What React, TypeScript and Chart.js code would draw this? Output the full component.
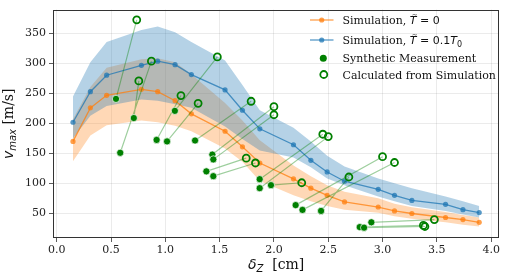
import React, { useEffect, useRef } from 'react';
import { Chart, registerables } from 'chart.js';

Chart.register(...registerables);

// ---- data ----
const simX = [0.15, 0.31, 0.46, 0.78, 0.93, 1.09, 1.24, 1.55, 1.71, 1.87, 2.18, 2.34, 2.49, 2.65, 2.96, 3.11, 3.27, 3.58, 3.74, 3.89];
const vT0 = [170, 226, 247, 257, 253, 238, 216, 187, 161, 134, 107.5, 92, 80, 69, 60.5, 54, 49.7, 43, 39.5, 35];
const vT0Lo = [137, 180, 197, 205, 202, 196, 187, 158, 136, 104, 80, 70, 62, 56, 51, 45, 41, 35, 31, 28];
const vT0Hi = [207, 261, 293, 307, 309, 302, 282, 234, 205, 172, 130, 112, 97, 86, 75, 66, 60, 52, 47, 43];
const vT01 = [202, 253, 280.5, 297, 304, 298, 281.5, 256, 222, 191, 164.4, 138.5, 119, 103.6, 90, 80, 71.5, 65, 56, 51.3];
const vT01Lo = [175, 213, 229, 240, 238, 232, 226, 195, 174, 155, 143, 127, 108, 97, 78, 70, 62, 54, 48, 43];
const vT01Hi = [245, 302, 336, 356, 362, 352, 336, 305, 264, 222, 193, 170, 146, 128, 108, 100, 92, 78, 70, 62];

// synthetic measurements (filled) paired by index with values calculated from simulation (open)
const measX = [0.546, 0.585, 0.71, 0.92, 1.016, 1.088, 1.274, 1.433, 1.442, 1.378, 1.442, 1.869, 1.869, 1.973, 2.2, 2.263, 2.434, 2.79, 2.83, 2.897];
const measV = [241, 151, 209, 172.5, 170, 221, 171.5, 148, 140, 120, 112, 107, 92, 97, 63.7, 55.7, 54, 27, 26, 35];
const calcX = [0.737, 0.872, 0.756, 1.144, 1.302, 1.479, 1.79, 2.0, 2.0, 1.745, 1.83, 2.45, 2.5, 2.256, 3.0, 3.11, 2.69, 3.376, 3.39, 3.477];
const calcV = [373, 304, 271, 246.5, 233.5, 311, 237, 228, 214.5, 142, 134, 182, 178, 101, 144.5, 134.8, 110.6, 29.8, 28, 39.5];

const xTicks = [0, 0.5, 1.0, 1.5, 2.0, 2.5, 3.0, 3.5, 4.0];
const yTicks = [50, 100, 150, 200, 250, 300, 350];

const ORANGE = '#ff7f0e';
const BLUE = '#1f77b4';
const GREEN = '#008000';
const SERIF = "'DejaVu Serif', serif";
const SANS = "'DejaVu Sans', sans-serif";

type Run = { t: string; f: string; dy?: number; tilde?: boolean };

function runsWidth(ctx: CanvasRenderingContext2D, runs: Run[]) {
  let w = 0;
  for (const r of runs) {
    ctx.font = r.f;
    w += ctx.measureText(r.t).width;
  }
  return w;
}

function drawRuns(ctx: CanvasRenderingContext2D, runs: Run[], x: number, y: number) {
  let cx = x;
  ctx.textAlign = 'left';
  ctx.textBaseline = 'alphabetic';
  for (const r of runs) {
    ctx.font = r.f;
    ctx.fillText(r.t, cx, y + (r.dy ?? 0));
    const w = ctx.measureText(r.t).width;
    if (r.tilde) {
      ctx.save();
      ctx.font = `7px ${SANS}`;
      ctx.textAlign = 'center';
      ctx.fillText('~', cx + w / 2 + 1.5, y - 7.5);
      ctx.restore();
    }
    cx += w;
  }
}

const xy = (xs: number[], ys: number[]) => xs.map((x, i) => ({ x, y: ys[i] }));

const framePlugin = {
  id: 'frame',
  afterDatasetsDraw(chart: any) {
    const { ctx, chartArea: a } = chart;
    ctx.save();
    ctx.strokeStyle = '#333';
    ctx.lineWidth = 1;
    ctx.strokeRect(Math.round(a.left) + 0.5, Math.round(a.top) + 0.5, Math.round(a.right - a.left) - 1, Math.round(a.bottom - a.top) - 1);
    ctx.restore();
  },
};

const textPlugin = {
  id: 'texts',
  afterDraw(chart: any) {
    const ctx: CanvasRenderingContext2D = chart.ctx;
    const a = chart.chartArea;
    ctx.save();
    ctx.fillStyle = '#111';

    // x title
    const xRuns: Run[] = [
      { t: 'δ', f: `italic 14px ${SANS}` },
      { t: 'Z', f: `italic 10px ${SANS}`, dy: 3 },
      { t: '  [cm]', f: `14px ${SERIF}` },
    ];
    const xw = runsWidth(ctx, xRuns);
    drawRuns(ctx, xRuns, (a.left + a.right) / 2 - xw / 2, 269);

    // y title
    const yRuns: Run[] = [
      { t: 'v', f: `italic 14px ${SANS}` },
      { t: 'max', f: `italic 10px ${SANS}`, dy: 3 },
      { t: ' [m/s]', f: `14px ${SERIF}` },
    ];
    const yw = runsWidth(ctx, yRuns);
    ctx.save();
    ctx.translate(13, (a.top + a.bottom) / 2);
    ctx.rotate(-Math.PI / 2);
    drawRuns(ctx, yRuns, -yw / 2, 0);
    ctx.restore();

    // legend
    const tx = 342.5;
    const rows: { y: number; runs: Run[] }[] = [
      { y: 20, runs: [{ t: 'Simulation, ', f: `11px ${SERIF}` }, { t: 'T', f: `italic 11px ${SANS}`, tilde: true }, { t: ' = 0', f: `11px ${SANS}` }] },
      { y: 40, runs: [{ t: 'Simulation, ', f: `11px ${SERIF}` }, { t: 'T', f: `italic 11px ${SANS}`, tilde: true }, { t: ' = 0.1', f: `11px ${SANS}` }, { t: 'T', f: `italic 11px ${SANS}` }, { t: '0', f: `8px ${SANS}`, dy: 2.5 }] },
      { y: 58.3, runs: [{ t: 'Synthetic Measurement', f: `11px ${SERIF}` }] },
      { y: 74.5, runs: [{ t: 'Calculated from Simulation', f: `11px ${SERIF}` }] },
    ];
    rows.forEach((r) => drawRuns(ctx, r.runs, tx, r.y + 4));

    // legend handles
    const handleLine = (y: number, color: string) => {
      ctx.save();
      ctx.globalAlpha = 0.75;
      ctx.strokeStyle = color;
      ctx.fillStyle = color;
      ctx.lineWidth = 1.3;
      ctx.beginPath();
      ctx.moveTo(310, y);
      ctx.lineTo(333.5, y);
      ctx.stroke();
      ctx.beginPath();
      ctx.arc(321.7, y, 2.6, 0, Math.PI * 2);
      ctx.fill();
      ctx.restore();
    };
    handleLine(20, ORANGE);
    handleLine(40, BLUE);
    ctx.fillStyle = GREEN;
    ctx.beginPath();
    ctx.arc(323.3, 58.3, 3.5, 0, Math.PI * 2);
    ctx.fill();
    ctx.strokeStyle = GREEN;
    ctx.lineWidth = 1.8;
    ctx.beginPath();
    ctx.arc(323.8, 74.5, 3.5, 0, Math.PI * 2);
    ctx.stroke();
    ctx.restore();
  },
};

export default function App() {
  const ref = useRef<HTMLCanvasElement | null>(null);
  useEffect(() => {
    if (!ref.current) return;
    const links: any[] = [];
    measX.forEach((mx, i) => {
      links.push({ x: mx, y: measV[i] });
      links.push({ x: calcX[i], y: calcV[i] });
      links.push({ x: calcX[i], y: null });
    });
    const band = { pointRadius: 0, borderWidth: 0, borderColor: 'transparent', tension: 0 };
    const tickFont = { family: SERIF, size: 11 };
    const chart = new Chart(ref.current, {
      type: 'line',
      data: {
        datasets: [
          { data: xy(simX, vT0Lo), ...band, fill: false, order: 9 } as any,
          { data: xy(simX, vT0Hi), ...band, fill: '-1', backgroundColor: 'rgba(255,127,14,0.3)', order: 8 } as any,
          { data: xy(simX, vT01Lo), ...band, fill: false, order: 7 } as any,
          { data: xy(simX, vT01Hi), ...band, fill: '-1', backgroundColor: 'rgba(31,119,180,0.33)', order: 6 } as any,
          { data: xy(simX, vT0), borderColor: 'rgba(255,127,14,0.75)', backgroundColor: 'rgba(255,127,14,0.75)', borderWidth: 1.3, pointRadius: 2.6, pointBorderWidth: 0, fill: false, tension: 0, order: 5 } as any,
          { data: xy(simX, vT01), borderColor: 'rgba(31,119,180,0.75)', backgroundColor: 'rgba(31,119,180,0.75)', borderWidth: 1.3, pointRadius: 2.6, pointBorderWidth: 0, fill: false, tension: 0, order: 4 } as any,
          { data: links, borderColor: 'rgba(0,128,0,0.38)', borderWidth: 1.2, pointRadius: 0, fill: false, spanGaps: false, tension: 0, order: 3 } as any,
          { data: xy(measX, measV), showLine: false, pointRadius: 3.6, pointBackgroundColor: GREEN, pointBorderColor: '#ffffff', pointBorderWidth: 0.7, order: 2 } as any,
          { data: xy(calcX, calcV), showLine: false, pointRadius: 3.5, pointBackgroundColor: 'rgba(0,0,0,0)', pointBorderColor: GREEN, pointBorderWidth: 1.8, order: 1 } as any,
        ],
      },
      options: {
        animation: false,
        responsive: false,
        devicePixelRatio: 1,
        events: [],
        layout: { padding: { left: 0, right: 3, top: 2, bottom: 0 } },
        plugins: { legend: { display: false }, tooltip: { enabled: false } },
        scales: {
          x: {
            type: 'linear',
            min: -0.034,
            max: 4.074,
            afterFit: (s: any) => { s.height = 38; },
            afterBuildTicks: (s: any) => { s.ticks = xTicks.map((v) => ({ value: v })); },
            ticks: { callback: (v: any) => Number(v).toFixed(1), font: tickFont, color: '#222', padding: 2, maxRotation: 0, autoSkip: false },
            grid: { color: 'rgba(0,0,0,0.1)', lineWidth: 0.8, tickColor: '#333', tickLength: 4 },
            border: { display: false },
          },
          y: {
            type: 'linear',
            min: 8.8,
            max: 390,
            afterFit: (s: any) => { s.width = 53; },
            afterBuildTicks: (s: any) => { s.ticks = yTicks.map((v) => ({ value: v })); },
            ticks: { font: tickFont, color: '#222', padding: 3 },
            grid: { color: 'rgba(0,0,0,0.1)', lineWidth: 0.8, tickColor: '#333', tickLength: 4 },
            border: { display: false },
          },
        },
      } as any,
      plugins: [framePlugin, textPlugin],
    });
    return () => chart.destroy();
  }, []);
  return (
    <div style={{ position: 'absolute', left: 0, top: 0, width: 505, height: 276, background: '#fff' }}>
      <canvas ref={ref} width={505} height={276} style={{ display: 'block' }} />
    </div>
  );
}
